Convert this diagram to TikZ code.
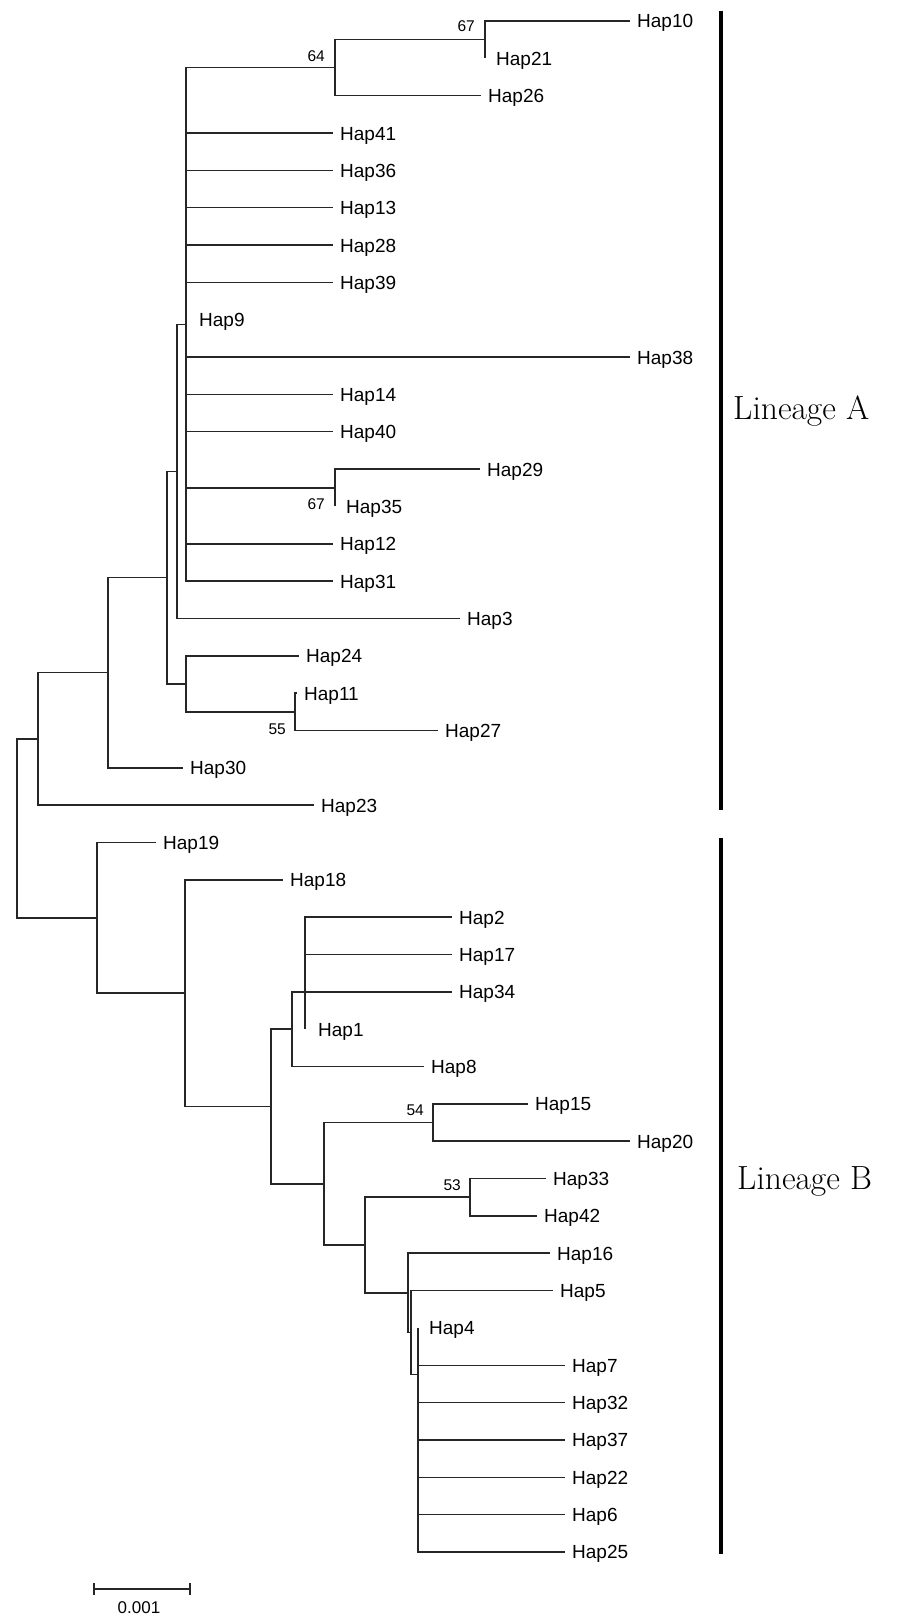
\documentclass[tikz,border=0pt]{standalone}
\usepackage{fontspec}
\newfontfamily\tipfont{Liberation Sans}
\begin{document}
\begin{tikzpicture}[x=1pt, y=-37.34pt,
  branch/.style={line width=1.5pt, draw=black!85},
  tip/.style={anchor=base west, inner sep=0pt, xshift=7pt, yshift=-7pt, font=\tipfont\fontsize{19}{19}\selectfont},
  ztip/.style={tip, xshift=4pt},
  boot/.style={anchor=east, inner sep=0pt, font=\tipfont\fontsize{15.5}{15.5}\selectfont},
  lineage/.style={anchor=base west, inner sep=0pt, font=\fontsize{33.5}{40}\selectfont},
  lbar/.style={line width=4pt, draw=black}]
\useasboundingbox (0,-0.5624) rectangle (896,42.742);

% ---------- tip ends ----------
\foreach \n/\x/\r in {Hap10/630/0, Hap21/485/1, Hap26/481/2, Hap41/333/3, Hap36/333/4,
  Hap13/333/5, Hap28/333/6, Hap39/333/7, Hap9/186/8, Hap38/630/9, Hap14/333/10,
  Hap40/333/11, Hap29/480/12, Hap35/335/13, Hap12/333/14, Hap31/333/15, Hap3/460/16,
  Hap24/299/17, Hap11/297/18, Hap27/438/19, Hap30/183/20, Hap23/314/21, Hap19/156/22,
  Hap18/283/23, Hap2/452/24, Hap17/452/25, Hap34/452/26, Hap1/305/27, Hap8/424/28,
  Hap15/528/29, Hap20/630/30, Hap33/546/31, Hap42/537/32, Hap16/550/33, Hap5/553/34,
  Hap4/418/35, Hap7/565/36, Hap32/565/37, Hap37/565/38, Hap22/565/39, Hap6/565/40,
  Hap25/565/41}
  \coordinate (\n) at (\x,\r);

% ---------- internal nodes ----------
\coordinate (N67) at (485,0.5);
\coordinate (N64) at (335,1.25);
\coordinate (P) at (186,8.125);
\coordinate (N67b) at (335,12.5);
\coordinate (Q) at (177,12.0625);
\coordinate (N55) at (295,18.5);
\coordinate (U) at (186,17.75);
\coordinate (R) at (167,14.906);
\coordinate (S) at (108,17.453);
\coordinate (T) at (38,19.227);
\coordinate (B5) at (305,26);
\coordinate (B4) at (292,27);
\coordinate (N54) at (433,29.5);
\coordinate (N53) at (470,31.5);
\coordinate (B10) at (418,36.25);
\coordinate (B9) at (411,35.125);
\coordinate (B8) at (408,34.06);
\coordinate (B7) at (365,32.78);
\coordinate (B6) at (324,31.14);
\coordinate (B3) at (271,29.07);
\coordinate (B2) at (185,26.035);
\coordinate (B1) at (97,24.02);
\coordinate (Root) at (17,21.62);

% ---------- branches ----------
\foreach \p/\c in {Root/T, Root/B1,
  T/S, T/Hap23, S/R, S/Hap30, R/Q, R/U, U/Hap24, U/N55, N55/Hap11, N55/Hap27,
  Q/P, Q/Hap3, P/N64, P/Hap41, P/Hap36, P/Hap13, P/Hap28, P/Hap39, P/Hap9, P/Hap38,
  P/Hap14, P/Hap40, P/N67b, P/Hap12, P/Hap31, N67b/Hap29, N67b/Hap35,
  N64/N67, N64/Hap26, N67/Hap10, N67/Hap21,
  B1/Hap19, B1/B2, B2/Hap18, B2/B3, B3/B4, B3/B6, B4/Hap34, B4/Hap8,
  B5/Hap2, B5/Hap17, B5/Hap1, B6/N54, B6/B7, N54/Hap15, N54/Hap20,
  B7/N53, B7/B8, N53/Hap33, N53/Hap42, B8/Hap16, B8/B9, B9/Hap5, B9/B10,
  B10/Hap4, B10/Hap7, B10/Hap32, B10/Hap37, B10/Hap22, B10/Hap6, B10/Hap25}
  \draw[branch] (\p) |- (\c);

% ---------- tip labels ----------
\foreach \n in {Hap10, Hap26, Hap41, Hap36, Hap13, Hap28, Hap39, Hap38, Hap14, Hap40,
  Hap29, Hap12, Hap31, Hap3, Hap24, Hap11, Hap27, Hap30, Hap23, Hap19, Hap18, Hap2,
  Hap17, Hap34, Hap8, Hap15, Hap20, Hap33, Hap42, Hap16, Hap5, Hap7, Hap32, Hap37,
  Hap22, Hap6, Hap25}
  \node[tip] (l\n) at (\n) {\n};
\foreach \n in {Hap21, Hap35, Hap4}
  \node[ztip] (l\n) at (\n) {\n};
\node[tip, xshift=6pt] (lHap9) at (Hap9) {Hap9};
\node[tip, xshift=6pt] (lHap1) at (Hap1) {Hap1};

% ---------- bootstrap values ----------
\node[boot] (b64) at (325,0.937) {64};
\node[boot] (b67a) at (475,0.147) {67};
\node[boot] (b67b) at (325,12.95) {67};
\node[boot] (b55) at (286,18.96) {55};
\node[boot] (b54) at (424,29.16) {54};
\node[boot] (b53) at (461,31.19) {53};

% ---------- lineage bars ----------
\coordinate (At) at (721,-0.268);
\coordinate (Ab) at (721,21.13);
\coordinate (Bt) at (721,21.88);
\coordinate (Bb) at (721,41.06);
\draw[lbar] (At) -- (Ab);
\draw[lbar] (Bt) -- (Bb);
\node[lineage] (linA) at (733,10.66) {Lineage A};
\node[lineage] (linB) at (737,31.28) {Lineage B};

% ---------- scale bar ----------
\coordinate (s1) at (94,41.993);
\coordinate (s2) at (190,41.993);
\draw[branch] (s1) -- (s2);
\draw[branch] ([yshift=6pt]s1) -- ([yshift=-6pt]s1);
\draw[branch] ([yshift=6pt]s2) -- ([yshift=-6pt]s2);
\node[anchor=center, inner sep=0pt, font=\tipfont\fontsize{17}{17}\selectfont] (sl) at (139,42.50) {0.001};
\end{tikzpicture}
\end{document}
